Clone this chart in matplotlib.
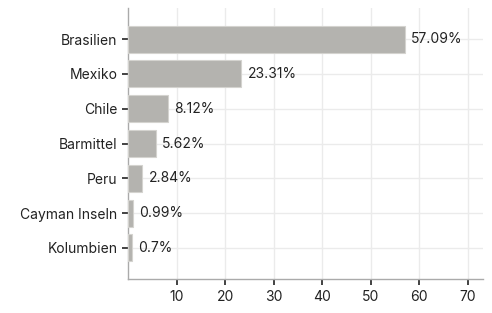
import matplotlib
matplotlib.use('Agg')
import matplotlib.pyplot as plt

countries = ["Brasilien", "Mexiko", "Chile", "Barmittel", "Peru", "Cayman Inseln", "Kolumbien"]
shares = [57.09, 23.31, 8.12, 5.62, 2.84, 0.99, 0.7]
labels = ["57.09%", "23.31%", "8.12%", "5.62%", "2.84%", "0.99%", "0.7%"]
xticks = [10, 20, 30, 40, 50, 60, 70]

plt.rcParams['font.family'] = ['Inter', 'DejaVu Sans']

fig = plt.figure(figsize=(4.92, 3.13), dpi=100)
ax = fig.add_axes([0.261, 0.109, 0.721, 0.865])

pos = list(range(len(countries)))
ax.barh(pos, shares, height=0.78, color="#b4b3af", edgecolor="#d4d3cf", linewidth=0.8, zorder=3)
for p, v, t in zip(pos, shares, labels):
    ax.text(v + 1.3, p, t, va="center", ha="left", fontsize=10, color="#222222", zorder=4)

ax.set_yticks(pos)
ax.set_yticklabels(countries)
ax.set_xticks(xticks)
ax.set_xlim(0, 73.2)
ax.set_ylim(6.89, -0.89)

ax.grid(True, color="#ebebeb", linewidth=1.0, zorder=0)
ax.set_axisbelow(True)
for s in ["top", "right"]:
    ax.spines[s].set_visible(False)
for s in ["left", "bottom"]:
    ax.spines[s].set_color("#aaaaaa")
    ax.spines[s].set_linewidth(1.0)
ax.tick_params(axis="both", length=4, width=1.2, color="#222222", labelsize=10,
               labelcolor="#222222", pad=4)

fig.savefig("out.png", dpi=100)
